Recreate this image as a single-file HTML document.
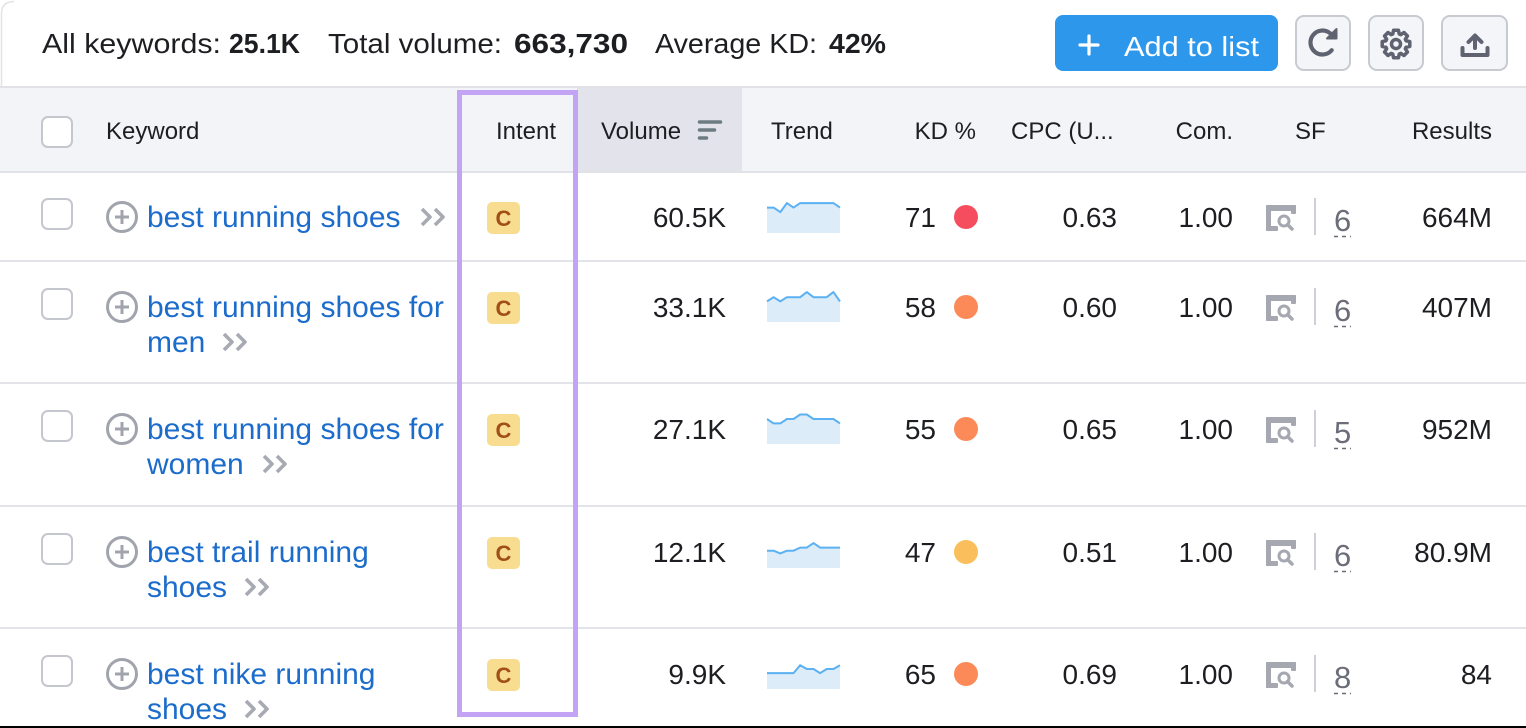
<!DOCTYPE html>
<html><head><meta charset="utf-8"><style>
html,body{margin:0;padding:0;background:#fff;width:1526px;height:728px;overflow:hidden}
svg{display:block}
text{font-family:"Liberation Sans",Arial,sans-serif}
</style></head><body>
<svg width="1526" height="728" viewBox="0 0 1526 728" xmlns="http://www.w3.org/2000/svg">
<rect x="0" y="0" width="1526" height="728" fill="#fff"/>
<path d="M1.5,87 V14 Q1.5,1.5 14,1.5" stroke="#e3e3e7" stroke-width="1.5" fill="none"/>

<!-- stats -->
<g font-size="28" fill="#1d1e22">
<text x="42" y="53" textLength="179" lengthAdjust="spacingAndGlyphs">All keywords:</text>
<text x="229" y="53" font-weight="700" textLength="71" lengthAdjust="spacingAndGlyphs">25.1K</text>
<text x="328" y="53" textLength="174" lengthAdjust="spacingAndGlyphs">Total volume:</text>
<text x="514" y="53" font-weight="700" textLength="114" lengthAdjust="spacingAndGlyphs">663,730</text>
<text x="655" y="53" textLength="162" lengthAdjust="spacingAndGlyphs">Average KD:</text>
<text x="829" y="53" font-weight="700" textLength="57" lengthAdjust="spacingAndGlyphs">42%</text>
</g>

<!-- buttons -->
<rect x="1055" y="15" width="223" height="56" rx="8" fill="#2d97ec"/>
<path d="M1080,45 H1098 M1089,36 V54" stroke="#fff" stroke-width="3.2" stroke-linecap="round"/>
<text x="1124" y="56" fill="#fff" font-size="28" textLength="135" lengthAdjust="spacingAndGlyphs">Add to list</text>

<rect x="1296" y="16" width="54" height="54" rx="8" fill="#f4f5f9" stroke="#c8cad2" stroke-width="2"/>
<rect x="1369" y="16" width="54" height="54" rx="8" fill="#f4f5f9" stroke="#c8cad2" stroke-width="2"/>
<rect x="1442" y="16" width="65" height="54" rx="8" fill="#f4f5f9" stroke="#c8cad2" stroke-width="2"/>
<!-- refresh -->
<path d="M1330.2,33.3 A12 12 0 1 0 1331.7,50.2" stroke="#5f6270" stroke-width="4.2" fill="none" stroke-linecap="round"/>
<polygon points="1336.5,29 1336.5,38.5 1327,38.5" fill="#5f6270" stroke="#5f6270" stroke-width="2" stroke-linejoin="round"/>
<!-- gear -->
<g transform="translate(1396,44)" stroke="#5f6270" fill="none" stroke-width="3.5" stroke-linejoin="round">
<polygon points="9.99,-3.24 13.79,-2.43 13.79,2.43 9.99,3.24 9.36,4.77 11.47,8.03 8.03,11.47 4.77,9.36 3.24,9.99 2.43,13.79 -2.43,13.79 -3.24,9.99 -4.77,9.36 -8.03,11.47 -11.47,8.03 -9.36,4.77 -9.99,3.24 -13.79,2.43 -13.79,-2.43 -9.99,-3.24 -9.36,-4.77 -11.47,-8.03 -8.03,-11.47 -4.77,-9.36 -3.24,-9.99 -2.43,-13.79 2.43,-13.79 3.24,-9.99 4.77,-9.36 8.03,-11.47 11.47,-8.03 9.36,-4.77"/>
<circle r="4.5"/>
</g>
<!-- upload -->
<g stroke="#5f6270" stroke-width="4" fill="none" stroke-linecap="round" stroke-linejoin="round">
<path d="M1475,48 V37 M1468.5,42 L1475,35.5 L1481.5,42"/>
<path d="M1462.5,48 V55 H1487.5 V48"/>
</g>

<!-- header -->
<rect x="0" y="88" width="1526" height="84" fill="#f3f4f8"/>
<rect x="577" y="88" width="165" height="84" fill="#e3e4eb"/>
<rect x="0" y="86" width="1526" height="2" fill="#e1e2e8"/>
<rect x="0" y="171" width="1526" height="2" fill="#e1e2e8"/>
<rect x="42" y="117" width="30" height="30" rx="6" fill="#fff" stroke="#c5c7cf" stroke-width="2"/>
<g font-size="24" fill="#1d1e22">
<text x="106" y="139">Keyword</text>
<text x="556" y="139" text-anchor="end">Intent</text>
<text x="601" y="139">Volume</text>
<text x="771" y="139">Trend</text>
<text x="976" y="139" text-anchor="end">KD %</text>
<text x="1011" y="139">CPC (U...</text>
<text x="1233" y="139" text-anchor="end">Com.</text>
<text x="1295" y="139">SF</text>
<text x="1492" y="139" text-anchor="end">Results</text>
</g>
<path d="M699.5,122 H720.5 M699.5,130 H714.5 M699.5,138 H706.5" stroke="#6d7b82" stroke-width="3.5" stroke-linecap="round"/>

<!-- row separators -->
<g fill="#e3e4ea">
<rect x="0" y="260" width="1526" height="2"/>
<rect x="0" y="382" width="1526" height="2"/>
<rect x="0" y="505" width="1526" height="2"/>
<rect x="0" y="627" width="1526" height="2"/>
</g>

<!-- checkboxes -->
<g fill="#fff" stroke="#c5c7cf" stroke-width="2">
<rect x="42" y="199" width="30" height="30" rx="6"/>
<rect x="42" y="289" width="30" height="30" rx="6"/>
<rect x="42" y="411" width="30" height="30" rx="6"/>
<rect x="42" y="534" width="30" height="30" rx="6"/>
<rect x="42" y="656" width="30" height="30" rx="6"/>
</g>

<!-- plus circles -->
<g fill="none" stroke="#a2a4ad" stroke-width="3">
<circle cx="122" cy="217" r="14.5"/><path d="M115,217 H129 M122,210 V224"/>
<circle cx="122" cy="307" r="14.5"/><path d="M115,307 H129 M122,300 V314"/>
<circle cx="122" cy="429" r="14.5"/><path d="M115,429 H129 M122,422 V436"/>
<circle cx="122" cy="552" r="14.5"/><path d="M115,552 H129 M122,545 V559"/>
<circle cx="122" cy="674" r="14.5"/><path d="M115,674 H129 M122,667 V681"/>
</g>

<!-- keywords -->
<g font-size="30" fill="#1c6ccb">
<text x="147" y="227">best running shoes</text>
<text x="147" y="317">best running shoes for</text>
<text x="147" y="352">men</text>
<text x="147" y="439">best running shoes for</text>
<text x="147" y="474">women</text>
<text x="147" y="562">best trail running</text>
<text x="147" y="597">shoes</text>
<text x="147" y="684">best nike running</text>
<text x="147" y="719">shoes</text>
</g>

<!-- chevrons -->
<g fill="none" stroke="#a8aab3" stroke-width="3.6" stroke-linejoin="round">
<path d="M422,209 L430,217 L422,225 M435,209 L443,217 L435,225"/>
<path d="M224,334 L232,342 L224,350 M237,334 L245,342 L237,350"/>
<path d="M264,456 L272,464 L264,472 M277,456 L285,464 L277,472"/>
<path d="M246,579 L254,587 L246,595 M259,579 L267,587 L259,595"/>
<path d="M246,701 L254,709 L246,717 M259,701 L267,709 L259,717"/>
</g>

<!-- intent badges -->
<g fill="#f8dc90">
<rect x="487" y="202" width="33" height="32" rx="5"/>
<rect x="487" y="292" width="33" height="32" rx="5"/>
<rect x="487" y="414" width="33" height="32" rx="5"/>
<rect x="487" y="537" width="33" height="32" rx="5"/>
<rect x="487" y="659" width="33" height="32" rx="5"/>
</g>
<g font-size="22" font-weight="700" fill="#a04f18" text-anchor="middle">
<text x="503.5" y="226">C</text>
<text x="503.5" y="316">C</text>
<text x="503.5" y="438">C</text>
<text x="503.5" y="561">C</text>
<text x="503.5" y="683">C</text>
</g>

<!-- sparklines -->
<g fill="#dcecf9" stroke="none">
<polygon points="767,207.6 773.6,207.6 780.3,212.1 786.9,203.1 793.5,207.6 800.2,203.1 833.4,203.1 840,207.6 840,233 767,233"/>
<polygon points="767,301.4 773.6,297.2 780.3,301.4 786.9,297.2 800.2,297.2 806.8,292.1 813.5,297.2 826.7,297.2 833.4,292.1 840,301.4 840,322 767,322"/>
<polygon points="767,419 773.6,423.4 780.3,423.4 786.9,419 793.5,419 800.2,414.5 806.8,414.5 813.5,419 833.4,419 840,423.4 840,444 767,444"/>
<polygon points="767,550.7 773.6,550.7 780.3,553.4 786.9,550.7 793.5,550.7 800.2,547.6 806.8,547.6 813.5,543.1 820.1,547.6 840,547.6 840,568 767,568"/>
<polygon points="767,673.1 793.5,673.1 800.2,665.2 806.8,669 813.5,669 820.1,673.1 826.7,669 833.4,669 840,665.2 840,689 767,689"/>
</g>
<g fill="none" stroke="#5cb1f2" stroke-width="2" stroke-linejoin="round">
<polyline points="767,207.6 773.6,207.6 780.3,212.1 786.9,203.1 793.5,207.6 800.2,203.1 833.4,203.1 840,207.6"/>
<polyline points="767,301.4 773.6,297.2 780.3,301.4 786.9,297.2 800.2,297.2 806.8,292.1 813.5,297.2 826.7,297.2 833.4,292.1 840,301.4"/>
<polyline points="767,419 773.6,423.4 780.3,423.4 786.9,419 793.5,419 800.2,414.5 806.8,414.5 813.5,419 833.4,419 840,423.4"/>
<polyline points="767,550.7 773.6,550.7 780.3,553.4 786.9,550.7 793.5,550.7 800.2,547.6 806.8,547.6 813.5,543.1 820.1,547.6 840,547.6"/>
<polyline points="767,673.1 793.5,673.1 800.2,665.2 806.8,669 813.5,669 820.1,673.1 826.7,669 833.4,669 840,665.2"/>
</g>

<!-- numbers -->
<g font-size="28" fill="#1d1e22" text-anchor="end">
<text x="726" y="227">60.5K</text>
<text x="726" y="317">33.1K</text>
<text x="726" y="439">27.1K</text>
<text x="726" y="562">12.1K</text>
<text x="726" y="684">9.9K</text>
<text x="936" y="227">71</text>
<text x="936" y="317">58</text>
<text x="936" y="439">55</text>
<text x="936" y="562">47</text>
<text x="936" y="684">65</text>
<text x="1117" y="227">0.63</text>
<text x="1117" y="317">0.60</text>
<text x="1117" y="439">0.65</text>
<text x="1117" y="562">0.51</text>
<text x="1117" y="684">0.69</text>
<text x="1233" y="227">1.00</text>
<text x="1233" y="317">1.00</text>
<text x="1233" y="439">1.00</text>
<text x="1233" y="562">1.00</text>
<text x="1233" y="684">1.00</text>
<text x="1492" y="227">664M</text>
<text x="1492" y="317">407M</text>
<text x="1492" y="439">952M</text>
<text x="1492" y="562">80.9M</text>
<text x="1492" y="684">84</text>
</g>

<!-- KD dots -->
<circle cx="966" cy="217" r="12" fill="#f54c5e"/>
<circle cx="966" cy="307" r="12" fill="#fc8a58"/>
<circle cx="966" cy="429" r="12" fill="#fc8a58"/>
<circle cx="966" cy="552" r="12" fill="#fabf5c"/>
<circle cx="966" cy="674" r="12" fill="#fc8a58"/>

<!-- SF icons -->
<defs>
<g id="sficon" fill="#a6a8b1">
<rect x="0" y="0" width="30" height="6" rx="1"/>
<rect x="0" y="0" width="5" height="26" rx="1"/>
<rect x="0" y="21" width="12" height="5" rx="1"/>
<rect x="25" y="0" width="5" height="9" rx="1"/>
<circle cx="18" cy="16" r="5" fill="none" stroke="#a6a8b1" stroke-width="3"/>
<path d="M21.5,19.5 L26,24" stroke="#a6a8b1" stroke-width="3.5" stroke-linecap="round"/>
</g>
</defs>
<use href="#sficon" transform="translate(1266,205)"/>
<use href="#sficon" transform="translate(1266,295)"/>
<use href="#sficon" transform="translate(1266,417)"/>
<use href="#sficon" transform="translate(1266,540)"/>
<use href="#sficon" transform="translate(1266,662)"/>
<g fill="#cdd0d6">
<rect x="1314" y="198" width="2" height="37"/>
<rect x="1314" y="288" width="2" height="37"/>
<rect x="1314" y="410" width="2" height="37"/>
<rect x="1314" y="533" width="2" height="37"/>
<rect x="1314" y="655" width="2" height="37"/>
</g>
<g font-size="31" fill="#6b6d79">
<text x="1334" y="231">6</text>
<text x="1334" y="321">6</text>
<text x="1334" y="443">5</text>
<text x="1334" y="566">6</text>
<text x="1334" y="688">8</text>
</g>
<g stroke="#6b6d79" stroke-width="1.5" stroke-dasharray="4 4">
<path d="M1334,236.5 H1351"/>
<path d="M1334,326.5 H1351"/>
<path d="M1334,448.5 H1351"/>
<path d="M1334,571.5 H1351"/>
<path d="M1334,693.5 H1351"/>
</g>

<!-- purple highlight -->
<rect x="459.5" y="92.5" width="116" height="622" fill="none" stroke="#c3a4f4" stroke-width="5"/>

<!-- bottom black line -->
<rect x="0" y="726" width="1526" height="2" fill="#000"/>
</svg>
</body></html>
